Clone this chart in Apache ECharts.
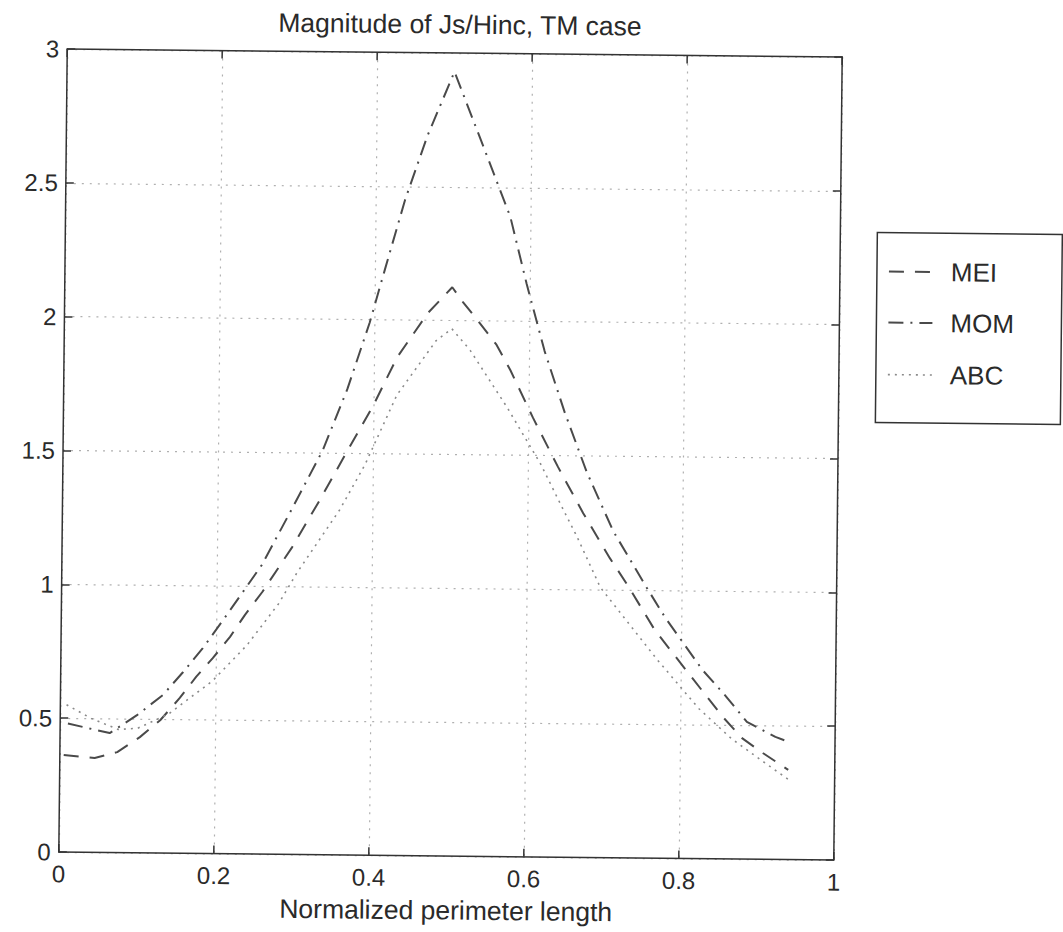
<!DOCTYPE html>
<html>
<head>
<meta charset="utf-8">
<title>Magnitude of Js/Hinc, TM case</title>
<script src="https://cdn.jsdelivr.net/npm/echarts@6/dist/echarts.min.js"></script>
<style>
  html, body { margin: 0; padding: 0; background: #fff; overflow: hidden; }
  #page { width: 1063px; height: 932px; transform: rotate(0.6deg); transform-origin: 450px 455px; }
  #chart { width: 1063px; height: 932px; }
</style>
</head>
<body>
<div id="page"><div id="chart"></div></div>
<script>
// Surface current magnitude along the normalized perimeter, three solution methods
const meiX = [0.005, 0.045, 0.074, 0.103, 0.129, 0.154, 0.175, 0.196, 0.218, 0.237, 0.259, 0.297, 0.332, 0.366, 0.40, 0.43, 0.469, 0.50, 0.514, 0.536, 0.558, 0.576, 0.606, 0.639, 0.672, 0.707, 0.73, 0.766, 0.812, 0.855, 0.88, 0.907, 0.94];
const meiY = [0.362, 0.352, 0.375, 0.432, 0.496, 0.58, 0.66, 0.73, 0.81, 0.893, 0.979, 1.148, 1.325, 1.505, 1.682, 1.862, 2.028, 2.125, 2.07, 1.992, 1.911, 1.818, 1.64, 1.457, 1.286, 1.119, 1.02, 0.852, 0.685, 0.53, 0.452, 0.397, 0.335];

const momX = [0.01, 0.064, 0.099, 0.132, 0.158, 0.183, 0.207, 0.232, 0.258, 0.296, 0.335, 0.366, 0.394, 0.413, 0.438, 0.466, 0.50, 0.544, 0.574, 0.596, 0.62, 0.647, 0.676, 0.711, 0.755, 0.779, 0.828, 0.857, 0.886, 0.923, 0.94];
const momY = [0.48, 0.446, 0.514, 0.59, 0.677, 0.767, 0.865, 0.97, 1.08, 1.29, 1.51, 1.74, 1.99, 2.19, 2.45, 2.69, 2.93, 2.61, 2.39, 2.14, 1.89, 1.66, 1.44, 1.22, 1.01, 0.90, 0.705, 0.613, 0.513, 0.458, 0.44];

const abcX = [0.008, 0.04, 0.075, 0.10, 0.14, 0.196, 0.24, 0.28, 0.303, 0.358, 0.39, 0.43, 0.48, 0.50, 0.524, 0.572, 0.616, 0.646, 0.664, 0.695, 0.77, 0.824, 0.866, 0.91, 0.94];
const abcY = [0.55, 0.50, 0.46, 0.465, 0.52, 0.645, 0.78, 0.935, 1.05, 1.29, 1.46, 1.72, 1.925, 1.97, 1.89, 1.68, 1.47, 1.30, 1.20, 1.01, 0.74, 0.56, 0.45, 0.36, 0.30];

const seriesNames = ['MEI', 'MOM', 'ABC'];
const titleText = 'Magnitude of Js/Hinc, TM case';
const xAxisName = 'Normalized perimeter length';

const FONT = 'Liberation Sans, Arial, Helvetica, sans-serif';
const TEXT = '#2a2a2a';
const AXIS = '#333';
const LINE = '#4a4a4a';
const DOT = '#8a8a8a';
const GRIDC = '#b0b0b0';
const dashMEI = [15, 11];
const dashMOM = [15, 7, 2, 7];
const dashABC = [2, 5];

const pairs = (xs, ys) => xs.map((x, i) => [x, ys[i]]);

const G = { left: 63, top: 53, width: 775, height: 803 };
const LG = { left: 875, top: 228, width: 185, height: 190 };
const legendRows = [
  { name: seriesNames[0], dash: dashMEI, color: LINE, width: 2, y: 267 },
  { name: seriesNames[1], dash: dashMOM, color: LINE, width: 2, y: 318 },
  { name: seriesNames[2], dash: dashABC, color: DOT, width: 1.6, y: 370 }
];

const legendGraphics = [{
  type: 'rect',
  shape: { x: LG.left, y: LG.top, width: LG.width, height: LG.height },
  style: { fill: '#fff', stroke: AXIS, lineWidth: 1.5 },
  z: 10
}];
legendRows.forEach(r => {
  legendGraphics.push({
    type: 'line',
    shape: { x1: 887, y1: r.y, x2: 931, y2: r.y },
    style: { stroke: r.color, lineWidth: r.width, lineDash: r.dash },
    z: 11
  });
  legendGraphics.push({
    type: 'text',
    x: 949, y: r.y,
    style: { text: r.name, fill: TEXT, font: '26px ' + FONT, textVerticalAlign: 'middle', textAlign: 'left' },
    z: 11
  });
});

const chart = echarts.init(document.getElementById('chart'), null, { renderer: 'svg' });

// frame edges on top and right: line plus inward ticks, no labels
const frameAxis = {
  axisLine: { show: true, onZero: false, lineStyle: { color: AXIS, width: 1.5 } },
  axisTick: { show: true, inside: true, length: 8, lineStyle: { color: AXIS, width: 1.5 } },
  axisLabel: { show: false },
  splitLine: { show: false }
};

chart.setOption({
  animation: false,
  backgroundColor: '#fff',
  title: {
    text: titleText,
    left: G.left + G.width / 2,
    textAlign: 'center',
    top: 6,
    textStyle: { fontFamily: FONT, fontSize: 26.5, fontWeight: 'normal', color: TEXT }
  },
  grid: { left: G.left, top: G.top, width: G.width, height: G.height, containLabel: false },
  xAxis: [
    {
      type: 'value', min: 0, max: 1, interval: 0.2, position: 'bottom',
      name: xAxisName, nameLocation: 'middle', nameGap: 41,
      nameTextStyle: { fontFamily: FONT, fontSize: 26.5, color: TEXT },
      axisLine: { show: true, onZero: false, lineStyle: { color: AXIS, width: 1.5 } },
      axisTick: { show: true, inside: true, length: 8, lineStyle: { color: AXIS, width: 1.5 } },
      axisLabel: { fontFamily: FONT, fontSize: 24, color: TEXT, margin: 10 },
      splitLine: { show: true, lineStyle: { color: GRIDC, width: 1.2, type: [2, 6] } }
    },
    Object.assign({ type: 'value', min: 0, max: 1, interval: 0.2, position: 'top' }, frameAxis)
  ],
  yAxis: [
    {
      type: 'value', min: 0, max: 3, interval: 0.5, position: 'left',
      axisLine: { show: true, onZero: false, lineStyle: { color: AXIS, width: 1.5 } },
      axisTick: { show: true, inside: true, length: 8, lineStyle: { color: AXIS, width: 1.5 } },
      axisLabel: { fontFamily: FONT, fontSize: 24, color: TEXT, margin: 8 },
      splitLine: { show: true, lineStyle: { color: GRIDC, width: 1.2, type: [2, 6] } }
    },
    Object.assign({ type: 'value', min: 0, max: 3, interval: 0.5, position: 'right' }, frameAxis)
  ],
  series: [
    {
      name: seriesNames[0], type: 'line', data: pairs(meiX, meiY),
      showSymbol: false, symbol: 'none', smooth: false,
      lineStyle: { color: LINE, width: 2, type: dashMEI }
    },
    {
      name: seriesNames[1], type: 'line', data: pairs(momX, momY),
      showSymbol: false, symbol: 'none', smooth: false,
      lineStyle: { color: LINE, width: 2, type: dashMOM }
    },
    {
      name: seriesNames[2], type: 'line', data: pairs(abcX, abcY),
      showSymbol: false, symbol: 'none', smooth: false,
      lineStyle: { color: DOT, width: 1.6, type: dashABC }
    }
  ],
  graphic: legendGraphics
});
</script>
</body>
</html>
